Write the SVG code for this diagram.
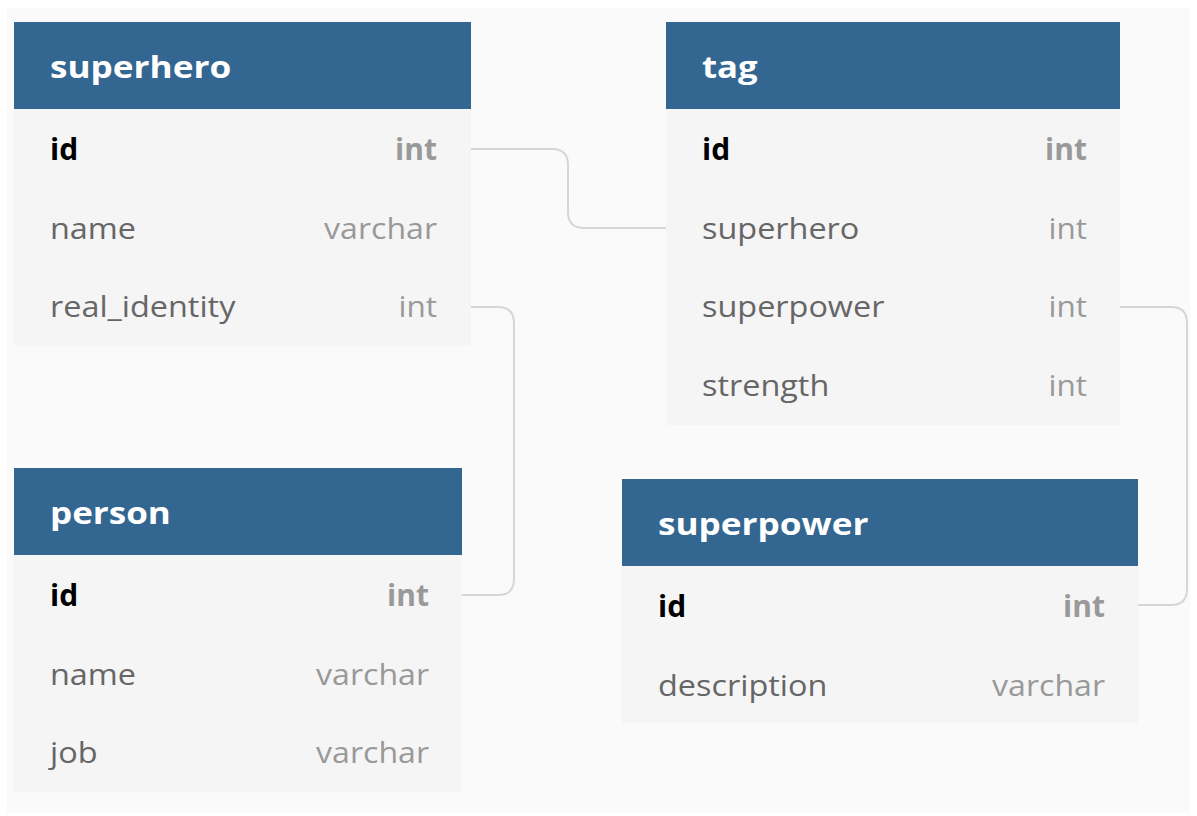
<svg xmlns="http://www.w3.org/2000/svg" width="1197" height="816" viewBox="0 0 1197 816">
<style>
.hdr{fill:#336791}
.body{fill:#f5f5f5}
.title{font-family:"Open Sans",sans-serif;font-weight:700;font-size:31px;fill:#ffffff}
.pk{font-family:"Open Sans",sans-serif;font-weight:700;font-size:30px;fill:#000000}
.pkt{font-family:"Open Sans",sans-serif;font-weight:700;font-size:30px;fill:#999999;text-anchor:end}
.col{font-family:"Open Sans",sans-serif;font-size:30px;fill:#666666}
.typ{font-family:"Open Sans",sans-serif;font-size:30px;fill:#999999;text-anchor:end}
.conn{fill:none;stroke:#d6d6d6;stroke-width:2}
</style>
<rect x="0" y="0" width="1197" height="816" fill="#ffffff"/>
<rect x="7" y="8" width="1183" height="805" fill="#fafafa"/>
<g id="connectors">
<path class="conn" d="M471 149 H552 Q568 149 568 165 V212 Q568 228 584 228 H666"/>
<path class="conn" d="M471 307 H498 Q514 307 514 323 V579 Q514 595 498 595 H462"/>
<path class="conn" d="M1120 307 H1171 Q1187 307 1187 323 V589 Q1187 605 1171 605 H1138"/>
</g>
<g id="superhero">
<rect class="hdr" x="14" y="22" width="457" height="87"/>
<rect class="body" x="14" y="109" width="457" height="237"/>
<text class="title" transform="translate(50,78) scale(1.135,1)">superhero</text>
<text class="pk" x="50" y="160">id</text><text class="pkt" x="437" y="160">int</text>
<text class="col" transform="translate(50,239) scale(1.08,1)">name</text><text class="typ" transform="translate(437,239) scale(1.07,1)">varchar</text>
<text class="col" transform="translate(50,317) scale(1.08,1)">real_identity</text><text class="typ" transform="translate(437,317) scale(1.05,1)">int</text>
</g>
<g id="tag">
<rect class="hdr" x="666" y="22" width="454" height="87"/>
<rect class="body" x="666" y="109" width="454" height="316"/>
<text class="title" transform="translate(702,78) scale(1.12,1)">tag</text>
<text class="pk" x="702" y="160">id</text><text class="pkt" x="1087" y="160">int</text>
<text class="col" transform="translate(702,239) scale(1.08,1)">superhero</text><text class="typ" transform="translate(1087,239) scale(1.05,1)">int</text>
<text class="col" transform="translate(702,317) scale(1.08,1)">superpower</text><text class="typ" transform="translate(1087,317) scale(1.05,1)">int</text>
<text class="col" transform="translate(702,396) scale(1.08,1)">strength</text><text class="typ" transform="translate(1087,396) scale(1.05,1)">int</text>
</g>
<g id="person">
<rect class="hdr" x="14" y="468" width="448" height="87"/>
<rect class="body" x="14" y="555" width="448" height="237"/>
<text class="title" transform="translate(50,524) scale(1.13,1)">person</text>
<text class="pk" x="50" y="606">id</text><text class="pkt" x="429" y="606">int</text>
<text class="col" transform="translate(50,685) scale(1.08,1)">name</text><text class="typ" transform="translate(429,685) scale(1.07,1)">varchar</text>
<text class="col" transform="translate(50,763) scale(1.08,1)">job</text><text class="typ" transform="translate(429,763) scale(1.07,1)">varchar</text>
</g>
<g id="superpower">
<rect class="hdr" x="622" y="479" width="516" height="87"/>
<rect class="body" x="622" y="566" width="516" height="157"/>
<text class="title" transform="translate(658,535) scale(1.135,1)">superpower</text>
<text class="pk" x="658" y="617">id</text><text class="pkt" x="1105" y="617">int</text>
<text class="col" transform="translate(658,696) scale(1.08,1)">description</text><text class="typ" transform="translate(1105,696) scale(1.07,1)">varchar</text>
</g>
</svg>
